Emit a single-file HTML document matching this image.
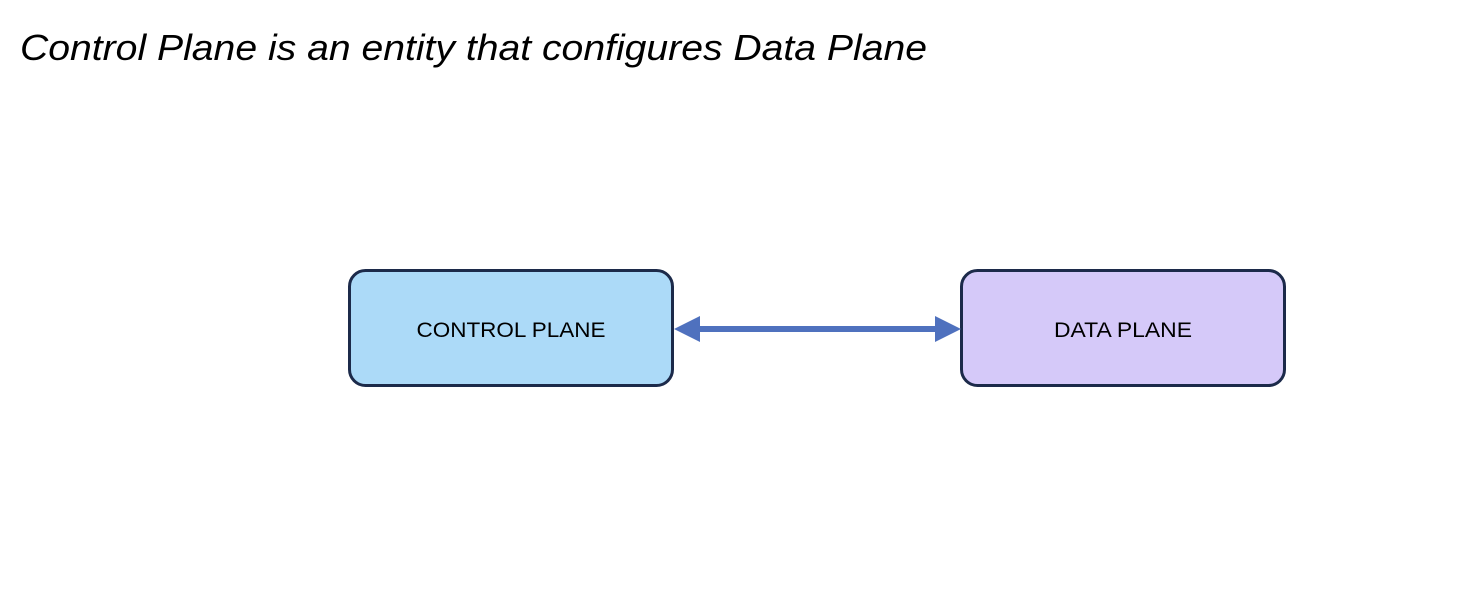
<!DOCTYPE html>
<html><head><meta charset="utf-8"><style>
html,body{margin:0;padding:0;background:#fff;}
svg{display:block;}
</style></head><body>
<svg width="1472" height="596" viewBox="0 0 1472 596" xmlns="http://www.w3.org/2000/svg">
<rect width="1472" height="596" fill="#fff"/>
<text x="20" y="60" font-family="Liberation Sans, sans-serif" font-style="italic" font-size="36" fill="#000" textLength="907" lengthAdjust="spacingAndGlyphs">Control Plane is an entity that configures Data Plane</text>
<rect x="349.5" y="270.5" width="323" height="115" rx="16" fill="#acdaf8" stroke="#1c2a4a" stroke-width="3"/>
<rect x="961.5" y="270.5" width="323" height="115" rx="16" fill="#d5c9f9" stroke="#1c2a4a" stroke-width="3"/>
<text x="511" y="337" text-anchor="middle" font-family="Liberation Sans, sans-serif" font-size="21" fill="#000" textLength="189" lengthAdjust="spacingAndGlyphs">CONTROL PLANE</text>
<text x="1123" y="337" text-anchor="middle" font-family="Liberation Sans, sans-serif" font-size="21" fill="#000" textLength="138" lengthAdjust="spacingAndGlyphs">DATA PLANE</text>
<rect x="698" y="326" width="238" height="6" fill="#4f71be"/>
<polygon points="674,329 700,316 700,342" fill="#4f71be"/>
<polygon points="961,329 935,316 935,342" fill="#4f71be"/>
</svg>
</body></html>
